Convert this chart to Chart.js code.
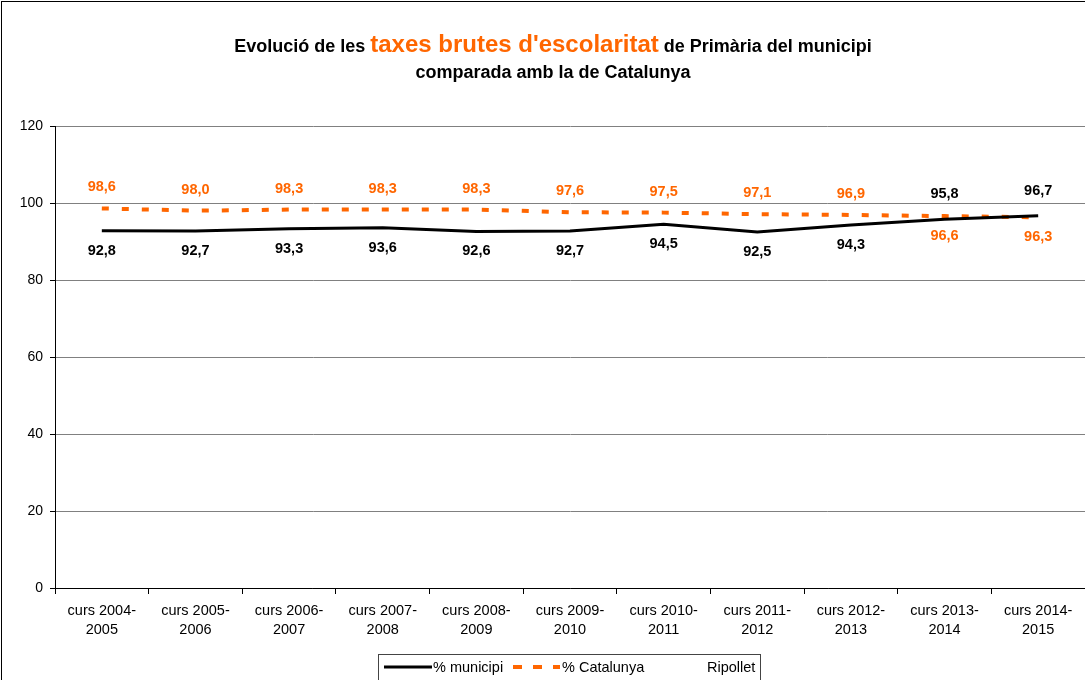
<!DOCTYPE html>
<html>
<head>
<meta charset="utf-8">
<script src="https://cdn.jsdelivr.net/npm/chart.js@4"></script>
<style>
  body { margin: 0; background: #fff; }
  #wrap { width: 1085px; height: 680px; }
</style>
</head>
<body>
<div id="wrap"><canvas id="taxesChart" width="1085" height="680"></canvas></div>
<script>
// Taxes brutes d'escolaritat - Primària
const categories = ['curs 2004-2005', 'curs 2005-2006', 'curs 2006-2007', 'curs 2007-2008', 'curs 2008-2009',
    'curs 2009-2010', 'curs 2010-2011', 'curs 2011-2012', 'curs 2012-2013', 'curs 2013-2014', 'curs 2014-2015'];
const municipi = [92.8, 92.7, 93.3, 93.6, 92.6, 92.7, 94.5, 92.5, 94.3, 95.8, 96.7];
const catalunya = [98.6, 98.0, 98.3, 98.3, 98.3, 97.6, 97.5, 97.1, 96.9, 96.6, 96.3];
const yTicks = [0, 20, 40, 60, 80, 100, 120];
const seriesNames = ['% municipi', '% Catalunya', 'Ripollet'];
// true where the municipi label sits above the line (Catalunya label then goes below)
const municipiLabelAbove = [false, false, false, false, false, false, false, false, false, true, true];

const ORANGE = '#ff6600';
const FONT = '"Liberation Sans", Arial, sans-serif';

function fmt(v) {
    return v.toFixed(1).replace('.', ',');
}

// title with the orange part in the middle
const titlePlugin = {
    id: 'richTitle',
    afterDraw(chart) {
        const ctx = chart.ctx;
        const parts = [
            { t: 'Evolució de les ', f: 'bold 18px ' + FONT, c: '#000' },
            { t: "taxes brutes d'escolaritat", f: 'bold 24px ' + FONT, c: ORANGE },
            { t: ' de Primària del municipi', f: 'bold 18px ' + FONT, c: '#000' }
        ];
        ctx.save();
        ctx.textBaseline = 'alphabetic';
        let total = 0;
        parts.forEach(p => { ctx.font = p.f; p.w = ctx.measureText(p.t).width; total += p.w; });
        let x = 553 - total / 2;
        parts.forEach(p => {
            ctx.font = p.f;
            ctx.fillStyle = p.c;
            ctx.textAlign = 'left';
            ctx.fillText(p.t, x, 52);
            x += p.w;
        });
        ctx.font = 'bold 18px ' + FONT;
        ctx.fillStyle = '#000';
        ctx.textAlign = 'center';
        ctx.fillText('comparada amb la de Catalunya', 553, 78);
        ctx.restore();
    }
};

// value labels above / below the points
const valueLabels = {
    id: 'valueLabels',
    afterDatasetsDraw(chart) {
        const ctx = chart.ctx;
        const y = chart.scales.y;
        const x = chart.scales.x;
        ctx.save();
        ctx.font = 'bold 14.5px ' + FONT;
        ctx.textAlign = 'center';
        ctx.textBaseline = 'middle';
        categories.forEach((c, i) => {
            const cx = x.getPixelForValue(i);
            const up = municipiLabelAbove[i];
            ctx.fillStyle = ORANGE;
            ctx.fillText(fmt(catalunya[i]), cx, y.getPixelForValue(catalunya[i]) + (up ? 20 : -21));
            ctx.fillStyle = '#000';
            ctx.fillText(fmt(municipi[i]), cx, y.getPixelForValue(municipi[i]) + (up ? -25 : 20));
        });
        ctx.restore();
    }
};

// legend box at the bottom and the outer frame
const legendBox = {
    id: 'legendBox',
    afterDraw(chart) {
        const ctx = chart.ctx;
        const ds = chart.data.datasets;
        ctx.save();
        ctx.strokeStyle = '#000';
        ctx.lineWidth = 1;
        ctx.strokeRect(1.5, 1.5, 1100, 700);

        ctx.strokeStyle = '#444';
        ctx.strokeRect(378.5, 654.5, 382, 40);

        const ly = 667;
        ctx.font = '14.5px ' + FONT;
        ctx.textBaseline = 'middle';
        ctx.textAlign = 'left';
        ctx.fillStyle = '#000';

        ctx.strokeStyle = ds[0].borderColor;
        ctx.lineWidth = 3;
        ctx.beginPath(); ctx.moveTo(384, ly); ctx.lineTo(432, ly); ctx.stroke();
        ctx.fillText(ds[0].label, 433, ly + 1);

        ctx.strokeStyle = ds[1].borderColor;
        ctx.lineWidth = 4;
        ctx.setLineDash([9, 11]);
        ctx.beginPath(); ctx.moveTo(513, ly); ctx.lineTo(560, ly); ctx.stroke();
        ctx.setLineDash([]);
        ctx.fillText(ds[1].label, 562, ly + 1);

        ctx.fillText(ds[2].label, 707, ly + 1);
        ctx.restore();
    }
};

const ctx = document.getElementById('taxesChart').getContext('2d');

new Chart(ctx, {
    type: 'line',
    data: {
        labels: categories,
        datasets: [{
            label: seriesNames[0],
            data: municipi,
            borderColor: '#000',
            borderWidth: 3,
            pointRadius: 0,
            tension: 0,
            fill: false
        }, {
            label: seriesNames[1],
            data: catalunya,
            borderColor: ORANGE,
            borderWidth: 4,
            borderDash: [7, 13],
            pointRadius: 0,
            tension: 0,
            fill: false
        }, {
            label: seriesNames[2],
            data: [],
            borderColor: 'rgba(0,0,0,0)',
            pointRadius: 0
        }]
    },
    options: {
        responsive: false,
        animation: false,
        layout: {
            padding: { top: 126, right: -1, left: 0, bottom: 0 }
        },
        plugins: {
            legend: { display: false },
            title: { display: false },
            tooltip: { enabled: false }
        },
        scales: {
            x: {
                offset: true,
                afterFit(scale) { scale.height = 92; },
                grid: {
                    offset: true,
                    drawOnChartArea: false,
                    tickLength: 6,
                    tickColor: '#000'
                },
                border: { color: '#000', width: 1 },
                ticks: {
                    color: '#000',
                    font: { family: FONT, size: 14.5, lineHeight: 1.35 },
                    padding: 7,
                    maxRotation: 0,
                    autoSkip: false,
                    callback(v) {
                        const s = categories[v];
                        const k = s.indexOf('-') + 1;
                        return [s.slice(0, k), s.slice(k)];
                    }
                }
            },
            y: {
                min: yTicks[0],
                max: yTicks[yTicks.length - 1],
                afterFit(scale) { scale.width = 55; },
                afterBuildTicks(scale) { scale.ticks = yTicks.map(v => ({ value: v })); },
                grid: {
                    color: '#808080',
                    tickLength: 5,
                    tickColor: '#000'
                },
                border: { color: '#000', width: 1 },
                ticks: {
                    color: '#000',
                    font: { family: FONT, size: 14 },
                    padding: 7
                }
            }
        }
    },
    plugins: [titlePlugin, valueLabels, legendBox]
});
</script>
</body>
</html>
